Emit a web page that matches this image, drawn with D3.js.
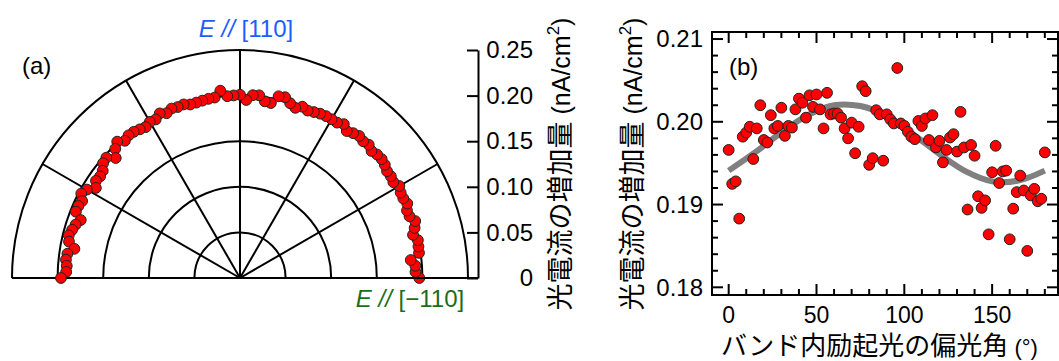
<!DOCTYPE html>
<html>
<head>
<meta charset="utf-8">
<script src="https://cdn.jsdelivr.net/npm/d3@7"></script>
<style>
  html, body { margin: 0; padding: 0; background: #fff; }
  svg { display: block; }
  text { font-family: "Liberation Sans", Arial, "Noto Sans CJK JP", sans-serif; }
</style>
</head>
<body>
<svg id="chart" width="1059" height="361"></svg>
<script>
// ---- data ----
const angles = [0,2,4,6,8,10,12,14,16,18,20,22,24,26,28,30,32,34,36,38,40,42,44,46,48,50,52,54,56,58,60,62,64,66,68,70,72,74,76,78,80,82,84,86,88,90,92,94,96,98,100,102,104,106,108,110,112,114,116,118,120,122,124,126,128,130,132,134,136,138,140,142,144,146,148,150,152,154,156,158,160,162,164,166,168,170,172,174,176,178,180];
const photocurrent = [0.1966,0.1925,0.1928,0.1883,0.1982,0.1987,0.1994,0.1955,0.1992,0.2020,
  0.1978,0.1975,0.2008,0.1992,0.1995,0.2017,0.1983,0.1995,0.1993,0.2015,
  0.2028,0.2023,0.2005,0.2032,0.2018,0.2033,0.2015,0.1992,0.2035,0.2009,
  0.2010,0.2010,0.2005,0.1992,0.1980,0.1999,0.1962,0.1994,0.2043,0.2037,
  0.1948,0.1956,0.2014,0.2009,0.1953,0.2009,0.2003,0.1998,0.2065,0.1998,
  0.1995,0.1988,0.1982,0.1979,0.2001,0.1995,0.2004,0.1978,0.2008,0.1969,
  0.1977,0.1951,0.1966,0.1981,0.1985,0.1964,0.2012,0.1969,0.1894,0.1972,
  0.1959,0.1910,0.1896,0.1905,0.1864,0.1939,0.1971,0.1926,0.1940,0.1941,
  0.1858,0.1895,0.1915,0.1935,0.1917,0.1844,0.1911,0.1919,0.1904,0.1907,0.1963];
// fitted curve
const fitAngles = [0,15,30,45,60,75,90,105,120,135,150,165,180];
const fitValues = [0.1941,0.1963,0.1987,0.2008,0.2020,0.2019,0.2007,0.1985,0.1961,0.1940,0.1928,0.1929,0.1941];
const radialTicks = [0,0.05,0.10,0.15,0.20,0.25];
const rings = [0.05,0.10,0.15,0.20,0.25];
const spokes = [0,30,60,90,120,150,180];
const bYTicks = [0.18,0.19,0.20,0.21];
const bXTicks = [0,50,100,150];

const svg = d3.select("#chart");
const pts = angles.map((a,i)=>({a, v: photocurrent[i]}));

// ================= (a) polar =================
const cx = 240, cy = 278;
const rS = d3.scaleLinear().domain([0,0.25]).range([0,228]);
const gA = svg.append("g");
const grid = gA.append("g").attr("fill","none").attr("stroke","#000").attr("stroke-width",2);
rings.forEach(r => {
  const p = d3.path();
  p.moveTo(cx + rS(r), cy);
  p.arc(cx, cy, rS(r), 0, -Math.PI, true);
  grid.append("path").attr("d", p.toString());
});
spokes.forEach(s => {
  const t = s*Math.PI/180;
  grid.append("line").attr("x1",cx).attr("y1",cy)
    .attr("x2",cx + rS(0.25)*Math.cos(t)).attr("y2",cy - rS(0.25)*Math.sin(t));
});
gA.append("g").selectAll("circle").data(pts).join("circle")
  .attr("cx", d => cx + rS(d.v)*Math.cos(d.a*Math.PI/180))
  .attr("cy", d => cy - rS(d.v)*Math.sin(d.a*Math.PI/180))
  .attr("r", 5.4).attr("fill","#ff0000").attr("stroke","#222").attr("stroke-width",1);

// radial axis at right
const yRad = d3.scaleLinear().domain([0,0.25]).range([cy, cy - 228]);
const axR = gA.append("g").attr("transform","translate(478,0)")
  .call(d3.axisRight(yRad).tickValues(radialTicks).tickSizeInner(-11).tickSizeOuter(0)
    .tickFormat(d => d === 0 ? "0" : d3.format(".2f")(d)));
axR.select(".domain").attr("stroke","#000").attr("stroke-width",2);
axR.selectAll(".tick line").attr("stroke","#000").attr("stroke-width",2);
axR.selectAll(".tick text").attr("x",55).attr("text-anchor","end")
  .attr("font-size",24).attr("fill","#000").attr("font-family",null);
gA.append("line").attr("x1",cx).attr("x2",478).attr("y1",cy).attr("y2",cy)
  .attr("stroke","#000").attr("stroke-width",2);

const t1 = gA.append("text").attr("x",246).attr("y",37).attr("text-anchor","middle")
  .attr("font-size",24).attr("fill","#1f5cff");
t1.append("tspan").attr("font-style","italic").text("E //");
t1.append("tspan").text(" [110]");
const t2 = gA.append("text").attr("x",410).attr("y",307).attr("text-anchor","middle")
  .attr("font-size",24).attr("fill","#1a6e1a");
t2.append("tspan").attr("font-style","italic").text("E //");
t2.append("tspan").text(" [\u2212110]");
gA.append("text").attr("x",22).attr("y",74).attr("font-size",24).text("(a)");

function yLabel(x) {
  const t = svg.append("text").attr("transform",`translate(${x},164) rotate(-90)`)
    .attr("text-anchor","middle").attr("font-size",25).attr("fill","#000");
  t.append("tspan").attr("font-size",27).text("光電流の増加量");
  t.append("tspan").text(" (nA/cm");
  t.append("tspan").attr("font-size",17).attr("dy",-11).text("2");
  t.append("tspan").attr("dy",11).text(")");
}
yLabel(570);

// ================= (b) cartesian =================
const L = 712, R = 1058, T = 32, B = 295;
const x = d3.scaleLinear().domain([-9.5,187.5]).range([L,R]);
const y = d3.scaleLinear().domain([0.17907,0.21085]).range([B,T]);
const gB = svg.append("g");

// ticks (inward)
const minorX = d3.range(0,181,10), minorY = d3.range(0.18,0.2101,0.002);
const tk = gB.append("g").attr("stroke","#000").attr("stroke-width",2);
minorX.forEach(v => {
  const len = (v % 50 === 0) ? 11 : 6;
  tk.append("line").attr("x1",x(v)).attr("x2",x(v)).attr("y1",B).attr("y2",B-len);
  tk.append("line").attr("x1",x(v)).attr("x2",x(v)).attr("y1",T).attr("y2",T+len);
});
minorY.forEach(v => {
  const major = Math.abs(v*100 - Math.round(v*100)) < 1e-6;
  const len = major ? 11 : 6;
  tk.append("line").attr("x1",L).attr("x2",L+len).attr("y1",y(v)).attr("y2",y(v));
  tk.append("line").attr("x1",R).attr("x2",R-len).attr("y1",y(v)).attr("y2",y(v));
});
gB.append("rect").attr("x",L).attr("y",T).attr("width",R-L).attr("height",B-T)
  .attr("fill","none").attr("stroke","#000").attr("stroke-width",2);

gB.append("g").selectAll("text").data(bYTicks).join("text")
  .attr("x",703).attr("y",d=>y(d)).attr("dy","0.35em").attr("text-anchor","end")
  .attr("font-size",24).text(d=>d3.format(".2f")(d));
gB.append("g").selectAll("text").data(bXTicks).join("text")
  .attr("x",d=>x(d)).attr("y",323).attr("text-anchor","middle")
  .attr("font-size",23).text(d=>d);

// fit line
gB.append("path").datum(fitAngles.map((a,i)=>[a,fitValues[i]]))
  .attr("d", d3.line().x(d=>x(d[0])).y(d=>y(d[1])).curve(d3.curveCatmullRom))
  .attr("fill","none").attr("stroke","#808080").attr("stroke-width",6);

gB.append("g").selectAll("circle").data(pts).join("circle")
  .attr("cx", d => x(d.a)).attr("cy", d => y(d.v))
  .attr("r", 5.4).attr("fill","#ff0000").attr("stroke","#222").attr("stroke-width",1);

gB.append("text").attr("x",729).attr("y",75).attr("font-size",24).text("(b)");
yLabel(642);

const xl = svg.append("text").attr("x",721).attr("y",355).attr("text-anchor","start")
  .attr("font-size",26).attr("fill","#000");
xl.append("tspan").text("バンド内励起光の偏光角");
xl.append("tspan").attr("font-size",22).text(" (°)");
</script>
</body>
</html>
